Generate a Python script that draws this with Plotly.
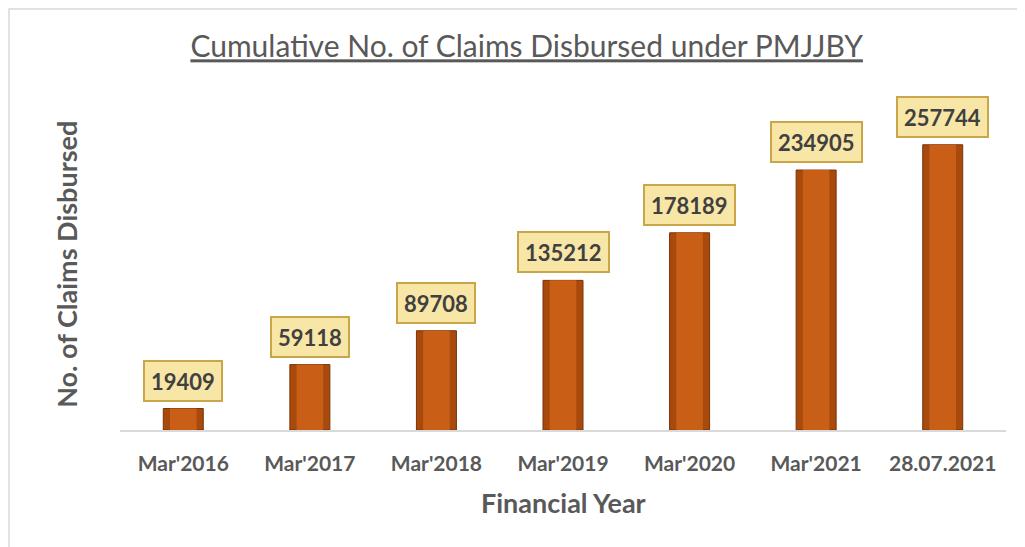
import plotly.graph_objects as go

categories = ["Mar'2016", "Mar'2017", "Mar'2018", "Mar'2019", "Mar'2020", "Mar'2021", "28.07.2021"]
claims = [19409, 59118, 89708, 135212, 178189, 234905, 257744]

title_text = "Cumulative No. of Claims Disbursed under PMJJBY"
x_title = "Financial Year"
y_title = "No. of Claims Disbursed"

FONT = "Lato, Open Sans, sans-serif"
GREY = "#595959"

fig = go.Figure()
# base bar (darker bevel edges)
fig.add_trace(go.Bar(
    x=categories, y=claims, width=0.316,
    marker=dict(color="#A84A0C", line=dict(color="#7A3308", width=1)),
    hoverinfo="x+y", showlegend=False,
))
# inner lighter face
fig.add_trace(go.Bar(
    x=categories, y=claims, width=0.21,
    marker=dict(color="#C95F17", line=dict(width=0)),
    hoverinfo="skip", showlegend=False,
))

for c, v in zip(categories, claims):
    fig.add_annotation(
        x=c, y=v, xref="x", yref="y", yshift=7, yanchor="bottom",
        showarrow=False,
        text="<b>%d</b>" % v,
        font=dict(family=FONT, size=22, color="#404040"),
        bgcolor="#F8E6A6", bordercolor="#C9A64A", borderwidth=2, borderpad=6,
        height=26,
    )

fig.add_annotation(
    text="<b>" + y_title + "</b>", xref="paper", yref="paper",
    x=-0.082, y=0.5, textangle=-90, showarrow=False,
    font=dict(family=FONT, size=27, color=GREY),
)
fig.add_annotation(
    text="<b>" + x_title + "</b>", xref="paper", yref="paper",
    x=0.5, y=-0.217, showarrow=False, yanchor="middle",
    font=dict(family=FONT, size=27, color=GREY),
)

# outer chart border
fig.add_shape(type="rect", xref="paper", yref="paper",
              x0=-0.1253, y0=-0.5, x1=1.2, y1=1.268,
              line=dict(color="#D9D9D9", width=1.5), layer="below")

fig.update_layout(
    width=1025, height=547,
    barmode="overlay",
    paper_bgcolor="white", plot_bgcolor="white",
    margin=dict(l=112, r=27, t=90, b=125),
    title=dict(text="<u>" + title_text + "</u>", x=0.506, xanchor="center",
               y=0.929, yanchor="middle",
               font=dict(family=FONT, size=30, color=GREY)),
    xaxis=dict(showline=True, linecolor="#D9D9D9", linewidth=1.5,
               ticks="outside", ticklen=14, tickcolor="rgba(0,0,0,0)",
               showgrid=False,
               tickfont=dict(family=FONT, size=21, color=GREY),
               tickprefix="<b>", ticksuffix="</b>"),
    yaxis=dict(range=[0, 300000], showgrid=False, showticklabels=False,
               zeroline=False, showline=False),
)

fig.write_html("out.html")
